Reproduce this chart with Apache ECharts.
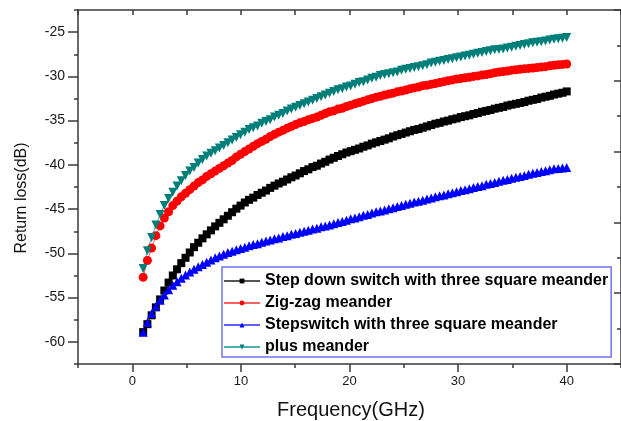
<!DOCTYPE html>
<html>
<head>
<meta charset="utf-8">
<script src="https://cdn.jsdelivr.net/npm/echarts@6/dist/echarts.min.js"></script>
<style>html,body{margin:0;padding:0;background:#fff}#c{width:621px;height:421px}</style>
</head>
<body>
<div id="c"></div>
<script>
const freq = [1.00,1.39,1.78,2.17,2.56,2.95,3.34,3.73,4.12,4.51,
  4.90,5.29,5.68,6.07,6.46,6.85,7.24,7.63,8.02,8.41,
  8.80,9.19,9.58,9.97,10.36,10.75,11.14,11.53,11.92,12.31,
  12.70,13.09,13.48,13.87,14.26,14.65,15.04,15.43,15.82,16.21,
  16.60,16.99,17.38,17.77,18.16,18.55,18.94,19.33,19.72,20.11,
  20.50,20.89,21.28,21.67,22.06,22.45,22.84,23.23,23.62,24.01,
  24.40,24.79,25.18,25.57,25.96,26.35,26.74,27.13,27.52,27.91,
  28.30,28.69,29.08,29.47,29.86,30.25,30.64,31.03,31.42,31.81,
  32.20,32.59,32.98,33.37,33.76,34.15,34.54,34.93,35.32,35.71,
  36.10,36.49,36.88,37.27,37.66,38.05,38.44,38.83,39.22,39.61,
  40.00];

const stepDown = [-58.9,-58.0,-57.0,-56.1,-55.2,-54.2,-53.3,-52.5,-51.8,-51.1,
  -50.5,-49.9,-49.3,-48.8,-48.3,-47.85,-47.4,-46.95,-46.55,-46.15,
  -45.75,-45.35,-44.95,-44.6,-44.25,-43.95,-43.7,-43.4,-43.15,-42.9,
  -42.6,-42.35,-42.1,-41.9,-41.65,-41.4,-41.2,-40.95,-40.7,-40.5,
  -40.25,-40.1,-39.85,-39.65,-39.4,-39.2,-39.0,-38.8,-38.6,-38.45,
  -38.3,-38.15,-37.95,-37.8,-37.6,-37.45,-37.3,-37.15,-37.0,-36.8,
  -36.65,-36.5,-36.35,-36.2,-36.05,-35.95,-35.8,-35.65,-35.5,-35.35,
  -35.25,-35.1,-35.0,-34.85,-34.75,-34.6,-34.5,-34.4,-34.25,-34.15,
  -34.0,-33.9,-33.8,-33.65,-33.55,-33.45,-33.3,-33.2,-33.1,-33.0,
  -32.9,-32.75,-32.65,-32.55,-32.4,-32.3,-32.2,-32.05,-31.95,-31.85,
  -31.7];

const zigzag = [-52.7,-50.8,-49.4,-48.0,-46.9,-46.0,-45.3,-44.6,-44.1,-43.6,
  -43.2,-42.8,-42.4,-42.0,-41.7,-41.3,-41.0,-40.7,-40.4,-40.1,
  -39.8,-39.5,-39.1,-38.8,-38.5,-38.2,-37.9,-37.6,-37.35,-37.1,
  -36.8,-36.55,-36.3,-36.1,-35.85,-35.65,-35.45,-35.25,-35.1,-34.9,
  -34.75,-34.6,-34.4,-34.2,-34.0,-33.9,-33.7,-33.6,-33.4,-33.25,
  -33.1,-32.95,-32.8,-32.65,-32.5,-32.35,-32.25,-32.1,-32.0,-31.9,
  -31.75,-31.65,-31.55,-31.4,-31.3,-31.2,-31.05,-31.0,-30.9,-30.8,
  -30.7,-30.6,-30.5,-30.4,-30.3,-30.25,-30.15,-30.1,-30.0,-29.95,
  -29.85,-29.8,-29.7,-29.6,-29.5,-29.45,-29.4,-29.3,-29.25,-29.2,
  -29.15,-29.1,-29.05,-29.0,-28.95,-28.9,-28.8,-28.75,-28.7,-28.65,
  -28.6];

const stepSwitch = [-58.9,-57.8,-56.8,-56.0,-55.3,-54.7,-54.1,-53.6,-53.2,-52.8,
  -52.45,-52.1,-51.8,-51.5,-51.25,-51.0,-50.75,-50.5,-50.3,-50.1,
  -49.9,-49.75,-49.6,-49.45,-49.3,-49.15,-49.0,-48.9,-48.75,-48.6,
  -48.5,-48.35,-48.25,-48.1,-48.0,-47.85,-47.75,-47.6,-47.5,-47.4,
  -47.25,-47.15,-47.0,-46.9,-46.8,-46.65,-46.5,-46.4,-46.25,-46.1,
  -46.0,-45.85,-45.7,-45.6,-45.45,-45.3,-45.2,-45.1,-44.95,-44.85,
  -44.7,-44.6,-44.45,-44.35,-44.2,-44.1,-44.0,-43.85,-43.75,-43.6,
  -43.5,-43.4,-43.25,-43.15,-43.05,-42.9,-42.8,-42.7,-42.55,-42.45,
  -42.35,-42.2,-42.1,-42.0,-41.85,-41.75,-41.65,-41.5,-41.4,-41.3,
  -41.2,-41.05,-40.95,-40.85,-40.75,-40.65,-40.55,-40.45,-40.4,-40.35,
  -40.3];

const plusMeander = [-51.7,-49.7,-48.2,-46.8,-45.6,-44.6,-43.8,-43.1,-42.4,-41.8,
  -41.2,-40.7,-40.3,-39.8,-39.4,-39.0,-38.7,-38.4,-38.1,-37.8,
  -37.5,-37.2,-36.9,-36.6,-36.3,-36.0,-35.8,-35.6,-35.3,-35.1,
  -34.9,-34.6,-34.4,-34.2,-33.9,-33.7,-33.5,-33.3,-33.1,-32.9,
  -32.7,-32.5,-32.3,-32.1,-31.9,-31.7,-31.5,-31.4,-31.2,-31.1,
  -30.9,-30.7,-30.6,-30.4,-30.2,-30.1,-29.9,-29.8,-29.7,-29.6,
  -29.5,-29.3,-29.2,-29.1,-29.0,-28.9,-28.8,-28.7,-28.5,-28.4,
  -28.3,-28.2,-28.1,-28.0,-27.9,-27.8,-27.7,-27.6,-27.5,-27.4,
  -27.3,-27.2,-27.1,-27.0,-26.95,-26.9,-26.8,-26.7,-26.6,-26.5,
  -26.4,-26.3,-26.2,-26.15,-26.1,-26.0,-25.9,-25.8,-25.75,-25.7,
  -25.6];

const seriesNames = ['Step down switch with three square meander','Zig-zag meander','Stepswitch with three square meander','plus meander'];
const xMajor = [0,10,20,30,40];
const xMinor = [-5,5,15,25,35,45];
const yMajor = [-60,-55,-50,-45,-40,-35,-30,-25];
const yMinor = [-62.5,-57.5,-52.5,-47.5,-42.5,-37.5,-32.5,-27.5,-22.5];

const axisColor = '#3a3a3a';
const pts = arr => freq.map((f,i)=>[f, arr[i]]);

const chart = echarts.init(document.getElementById('c'), null, {renderer:'canvas'});
const lineAxis = {show:true, onZero:false, lineStyle:{color:axisColor, width:1.5}};
chart.setOption({
  animation:false,
  backgroundColor:'#fff',
  grid:{left:78, top:10, width:545, height:354, containLabel:false},
  xAxis:[
    {type:'value', position:'bottom', min:-5, max:45, interval:5,
     axisLine:lineAxis, splitLine:{show:false},
     axisTick:{show:true, inside:false, length:8, customValues:xMajor, lineStyle:{color:axisColor,width:1.5}},
     axisLabel:{show:true, customValues:xMajor, margin:11, color:'#1a1a1a', fontSize:13, fontFamily:'Liberation Sans, Arial'}},
    {type:'value', position:'bottom', min:-5, max:45, interval:5,
     axisLine:{show:false, onZero:false}, splitLine:{show:false}, axisLabel:{show:false},
     axisTick:{show:true, inside:false, length:4, customValues:xMinor, lineStyle:{color:axisColor,width:1.5}}},
    {type:'value', position:'top', min:-5, max:45, interval:5,
     axisLine:lineAxis, splitLine:{show:false}, axisLabel:{show:false},
     axisTick:{show:true, inside:true, length:5, lineStyle:{color:axisColor,width:1.5}}}
  ],
  yAxis:[
    {type:'value', position:'left', min:-62.5, max:-22.5, interval:2.5,
     axisLine:lineAxis, splitLine:{show:false},
     axisTick:{show:true, inside:false, length:10, customValues:yMajor, lineStyle:{color:axisColor,width:1.5}},
     axisLabel:{show:true, customValues:yMajor, margin:13, color:'#1a1a1a', fontSize:14, fontFamily:'Liberation Sans, Arial'}},
    {type:'value', position:'left', min:-62.5, max:-22.5, interval:2.5,
     axisLine:{show:false, onZero:false}, splitLine:{show:false}, axisLabel:{show:false},
     axisTick:{show:true, inside:false, length:4, customValues:yMinor, lineStyle:{color:axisColor,width:1.5}}},
    {type:'value', position:'right', min:0, max:5, interval:1,
     axisLine:lineAxis, splitLine:{show:false}, axisLabel:{show:false},
     axisTick:{show:true, inside:true, length:7, lineStyle:{color:axisColor,width:1.5}},
     minorTick:{show:true, splitNumber:2, length:4, lineStyle:{color:axisColor,width:1.5}}}
  ],
  legend:{
    orient:'vertical', left:222, top:267,
    backgroundColor:'#fff', borderColor:'#7272ee', borderWidth:1.5, borderRadius:0,
    padding:[6,3,2,1], itemGap:6, itemWidth:36, itemHeight:6,
    textStyle:{fontSize:16, fontWeight:'bold', color:'#000', fontFamily:'Liberation Sans, Arial'},
    data:seriesNames
  },
  graphic:[
    {type:'text', x:22, y:198, rotation:Math.PI/2,
     style:{text:'Return loss(dB)', fontSize:16, fontFamily:'Liberation Sans, Arial', fill:'#111', align:'center', verticalAlign:'middle'}},
    {type:'text', x:351, y:410,
     style:{text:'Frequency(GHz)', fontSize:20, fontFamily:'Liberation Sans, Arial', fill:'#111', align:'center', verticalAlign:'middle'}}
  ],
  series:[
    {name:seriesNames[0], type:'line', data:pts(stepDown), symbol:'rect', symbolSize:8,
     itemStyle:{color:'#000'}, lineStyle:{color:'#555', width:1}},
    {name:seriesNames[1], type:'line', data:pts(zigzag), symbol:'circle', symbolSize:9,
     itemStyle:{color:'#ff0000'}, lineStyle:{color:'#ff6060', width:1}},
    {name:seriesNames[2], type:'line', data:pts(stepSwitch), symbol:'triangle', symbolSize:9,
     itemStyle:{color:'#0000ff'}, lineStyle:{color:'#6060ff', width:1}},
    {name:seriesNames[3], type:'line', data:pts(plusMeander), symbol:'triangle', symbolRotate:180, symbolSize:9,
     itemStyle:{color:'#007f7a'}, lineStyle:{color:'#50b0aa', width:1}}
  ]
});
</script>
</body>
</html>
